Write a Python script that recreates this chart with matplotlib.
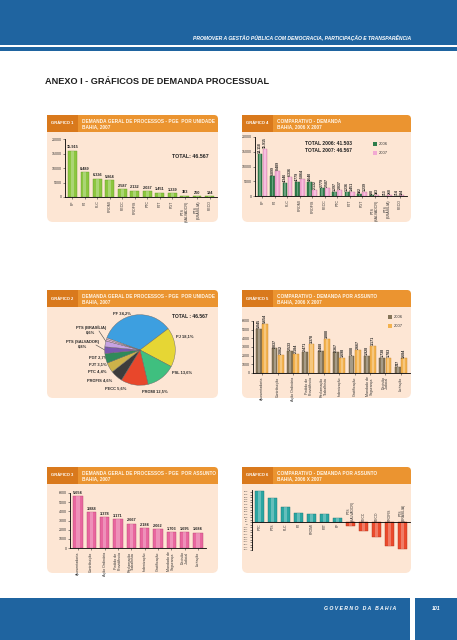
import numpy as np
import matplotlib
matplotlib.use('Agg')
import matplotlib.pyplot as plt
from matplotlib.patches import FancyBboxPatch, Rectangle

plt.rcParams['font.family'] = ['Liberation Sans', 'DejaVu Sans']

# ---- data ----
units = ['PF', 'PJ', 'PLC', 'PROMI', 'PECC', 'PROFIS', 'PTC', 'PJT', 'PGT',
         'PTS\n(SALVADOR)', 'PTS\n(BRASÍLIA)', 'PECO']
units_2007 = [15915, 8489, 6336, 5864, 2587, 2132, 2037, 1451, 1239, 383, 260, 194]

comp_units = ['PF', 'PJ', 'PLC', 'PROMI', 'PROFIS', 'PECC', 'PTC', 'PJT', 'PGT',
              'PTS\n(SALVADOR)', 'PTS\n(BRASÍLIA)', 'PECO']
comp_2006 = [14118, 6899, 4346, 4779, 4640, 2779, 1297, 1236, 582, 198, 113, 114]
comp_2007 = [15915, 8489, 6336, 5864, 2132, 2587, 2037, 1451, 1239, 383, 260, 194]

pie_labels = ['PF 34,2%', 'PJ 18,1%', 'PSL 13,6%', 'PROMI 12,5%', 'PECC 5,6%',
              'PROFIS 4,6%', 'PTC 4,4%', 'PJT 3,1%', 'PGT 2,7%',
              'PTS (SALVADOR)\n0,8%', 'PTS (BRASÍLIA)\n0,6%']
pie_share = [34.2, 18.1, 13.6, 12.5, 5.6, 4.6, 4.4, 3.1, 2.7, 0.8, 0.6]
pie_colors = ['#3d9fe0', '#e6d634', '#3fbf7f', '#e8472b', '#3c3c3c', '#cdb24a',
              '#2f8a5a', '#7a58b0', '#c6a2e2', '#e6b2d6', '#f2cde4']

subjects = ['Aposentadoria', 'Contribuição', 'Ação Ordinária', 'Pedido de\nProvidência',
            'Reclamação\nTrabalhista', 'Indenização', 'Gratificação', 'Mandado de\nSegurança',
            'Decisão\nJudicial', 'Licitação']
subj_2007 = [5654, 3888, 3378, 3171, 2667, 2184, 2062, 1703, 1695, 1684]
subj_comp_2006 = [5045, 2837, 2533, 2471, 2488, 2367, 2008, 1928, 1738, 747]
subj_comp_2007 = [5654, 2062, 2184, 3378, 3888, 1698, 2667, 3171, 1783, 1684]

var_labels = ['PTC', 'PTS', 'PLC', 'PJ', 'PROMI', 'PJT', 'PF',
              'PTS\n(SALVADOR)', 'PECC', 'PECO', 'PROFIS', 'PTS\n(BRASÍLIA)']
var_values = [62, 48, 30, 18, 16, 16, 8, -8, -18, -30, -48, -54]

BLUE = '#1f64a0'
PEACH = '#fde6d4'
ORANGE = '#eb9430'
DORANGE = '#d9791c'

W, H = 457, 640
fig = plt.figure(figsize=(W / 100, H / 100), dpi=100)
bg = fig.add_axes([0, 0, 1, 1])
bg.set_xlim(0, W)
bg.set_ylim(H, 0)
bg.axis('off')


def add_ax(x0, y0, x1, y1):
    ax = fig.add_axes([x0 / W, 1 - y1 / H, (x1 - x0) / W, (y1 - y0) / H])
    ax.set_facecolor('none')
    return ax


def fmt(v):
    return f'{v:,}'.replace(',', '.')


def panel(x0, y0, x1, y1, num, title):
    bg.add_patch(FancyBboxPatch((x0, y0), x1 - x0, y1 - y0,
                                boxstyle='round,pad=0,rounding_size=6', fc=PEACH, ec='none'))
    bg.add_patch(FancyBboxPatch((x0, y0), x1 - x0, 17,
                                boxstyle='round,pad=0,rounding_size=4', fc=ORANGE, ec='none'))
    bg.add_patch(Rectangle((x0, y0 + 9), x1 - x0, 8, fc=ORANGE, ec='none'))
    bg.add_patch(Rectangle((x0, y0), 31, 17, fc=DORANGE, ec='none'))
    bg.text(x0 + 15.5, y0 + 8.5, f'GRÁFICO {num}', color='white', fontsize=3.0,
            fontweight='bold', ha='center', va='center')
    bg.text(x0 + 35, y0 + 8.7, title, color='#fff4e6', fontsize=3.4,
            fontweight='bold', ha='left', va='center', linespacing=1.05)


def style(ax, labelsize=2.6):
    for s in ['top', 'right']:
        ax.spines[s].set_visible(False)
    for s in ['left', 'bottom']:
        ax.spines[s].set_linewidth(0.6)
    ax.tick_params(labelsize=labelsize, length=1.5, width=0.4, pad=1, colors='#333333')


def glossy(ax, x, h, width, color, edge):
    ax.bar(x, h, width, color=color, edgecolor=edge, linewidth=0.3)
    ax.bar(x, h, width * 0.35, color='white', alpha=0.28, linewidth=0)


# ---- page decoration ----
bg.add_patch(Rectangle((0, 0), W, 45, fc=BLUE, ec='none'))
bg.add_patch(Rectangle((0, 47), W, 4, fc=BLUE, ec='none'))
bg.text(411, 38, 'PROMOVER A GESTÃO PÚBLICA COM DEMOCRACIA, PARTICIPAÇÃO E TRANSPARÊNCIA',
        color='white', fontsize=3.6, fontweight='bold', style='italic', ha='right', va='center')
bg.text(45, 82, 'ANEXO I - GRÁFICOS DE DEMANDA PROCESSUAL', color='#1e1e1e', fontsize=6.6,
        fontweight='bold', ha='left', va='center')
bg.add_patch(Rectangle((0, 598), 410, 42, fc=BLUE, ec='none'))
bg.add_patch(Rectangle((415, 598), 42, 42, fc=BLUE, ec='none'))
bg.text(360, 609, 'G O V E R N O   D A   B A H I A', color='white', fontsize=3.7,
        fontweight='bold', style='italic', ha='center', va='center')
bg.text(436, 609, '101', color='white', fontsize=3.8, fontweight='bold', style='italic',
        ha='center', va='center')

# ---- panels ----
panel(47, 115, 218, 222, 1, 'DEMANDA GERAL DE PROCESSOS - PGE  POR UNIDADE\nBAHIA, 2007')
panel(242, 115, 411, 222, 4, 'COMPARATIVO - DEMANDA\nBAHIA, 2006 X 2007')
panel(47, 290, 218, 398, 2, 'DEMANDA GERAL DE PROCESSOS - PGE  POR UNIDADE\nBAHIA, 2007')
panel(242, 290, 411, 398, 5, 'COMPARATIVO - DEMANDA POR ASSUNTO\nBAHIA, 2006 X 2007')
panel(47, 467, 218, 573, 3, 'DEMANDA GERAL DE PROCESSOS - PGE  POR ASSUNTO\nBAHIA, 2007')
panel(242, 467, 411, 573, 6, 'COMPARATIVO - DEMANDA POR ASSUNTO\nBAHIA, 2006 X 2007')

# ---- Gráfico 1 ----
ax1 = add_ax(65, 139, 217, 197)
x = np.arange(len(units))
glossy(ax1, x, units_2007, 0.7, '#8cc63f', '#5f9a2a')
for xi, v in zip(x, units_2007):
    ax1.text(xi, v + 500, fmt(v), ha='center', va='bottom', fontsize=2.8, fontweight='bold',
             color='#222222')
ax1.set_ylim(0, 20000)
ax1.set_xlim(-0.6, 11.6)
ax1.set_yticks(range(0, 20001, 5000))
ax1.set_xticks(x)
ax1.set_xticklabels(units, rotation=90, fontsize=2.5, linespacing=0.9)
style(ax1)
bg.text(190, 156, 'TOTAL: 46.567', fontsize=3.8, fontweight='bold', ha='center', va='center',
        color='#222222')

# ---- Gráfico 4 ----
ax4 = add_ax(255, 137, 407, 196)
x = np.arange(len(comp_units))
glossy(ax4, x - 0.2, comp_2006, 0.38, '#2f7d4b', '#1d5a33')
glossy(ax4, x + 0.2, comp_2007, 0.38, '#f2a9d2', '#c7789f')
for xi, a, b in zip(x, comp_2006, comp_2007):
    ax4.text(xi - 0.2, a + 300, fmt(a), rotation=90, ha='center', va='bottom', fontsize=2.5,
             fontweight='bold', color='#222222')
    ax4.text(xi + 0.2, b + 300, fmt(b), rotation=90, ha='center', va='bottom', fontsize=2.5,
             fontweight='bold', color='#222222')
ax4.set_ylim(0, 20000)
ax4.set_xlim(-0.6, 11.6)
ax4.set_yticks(range(0, 20001, 5000))
ax4.set_xticks(x)
ax4.set_xticklabels(comp_units, rotation=90, fontsize=2.4, linespacing=0.9)
style(ax4)
bg.text(305, 147, 'TOTAL 2006: 41.503\nTOTAL 2007: 46.567', fontsize=3.6, fontweight='bold',
        ha='left', va='center', color='#222222', linespacing=1.3)
bg.add_patch(Rectangle((373, 142), 4, 4, fc='#2f7d4b', ec='none'))
bg.add_patch(Rectangle((373, 151), 4, 4, fc='#f2a9d2', ec='none'))
bg.text(379, 144, '2006', fontsize=3.0, va='center', color='#333333')
bg.text(379, 153, '2007', fontsize=3.0, va='center', color='#333333')

# ---- Gráfico 2 (pie) ----
ax2 = add_ax(104, 314, 176, 386)
ax2.pie(pie_share, colors=pie_colors, startangle=160, counterclock=False,
        wedgeprops=dict(edgecolor='#666666', linewidth=0.3))
ax2.set_xlim(-1.02, 1.02)
ax2.set_ylim(-1.02, 1.02)
ax2.set_aspect('equal')
pie_pos = [(122, 313, 'center'), (176, 336, 'left'), (172, 372, 'left'), (142, 391, 'left'),
           (126, 388, 'right'), (112, 380, 'right'), (107, 371, 'right'), (107, 364, 'right'),
           (107, 357, 'right'), (83, 344, 'center'), (91, 330, 'center')]
for lab, (px, py, ha) in zip(pie_labels, pie_pos):
    bg.text(px, py, lab, fontsize=2.9, fontweight='bold', ha=ha, va='center',
            color='#2a2a2a', linespacing=1.0)
bg.plot([99, 115], [331, 355], color='#444444', lw=0.4)
bg.plot([96, 110], [345, 353], color='#444444', lw=0.4)
bg.text(190, 317, 'TOTAL : 46.567', fontsize=3.6, fontweight='bold', ha='center', va='center',
        color='#222222')

# ---- Gráfico 5 ----
ax5 = add_ax(253, 321, 410, 373)
x = np.arange(len(subjects))
glossy(ax5, x - 0.2, subj_comp_2006, 0.38, '#857559', '#5e523d')
glossy(ax5, x + 0.2, subj_comp_2007, 0.38, '#f3b24e', '#c98a2e')
for xi, a, b in zip(x, subj_comp_2006, subj_comp_2007):
    ax5.text(xi - 0.2, a + 100, fmt(a), rotation=90, ha='center', va='bottom', fontsize=2.6,
             fontweight='bold', color='#222222')
    ax5.text(xi + 0.2, b + 100, fmt(b), rotation=90, ha='center', va='bottom', fontsize=2.6,
             fontweight='bold', color='#222222')
ax5.set_ylim(0, 6000)
ax5.set_xlim(-0.6, 9.6)
ax5.set_yticks(range(0, 6001, 1000))
ax5.set_xticks(x)
ax5.set_xticklabels(subjects, rotation=90, fontsize=2.3, linespacing=0.9)
style(ax5)
bg.add_patch(Rectangle((388, 315), 4, 4, fc='#857559', ec='none'))
bg.add_patch(Rectangle((388, 324), 4, 4, fc='#f3b24e', ec='none'))
bg.text(394, 317, '2006', fontsize=3.0, va='center', color='#333333')
bg.text(394, 326, '2007', fontsize=3.0, va='center', color='#333333')

# ---- Gráfico 3 ----
ax3 = add_ax(70, 493, 206, 548)
x = np.arange(len(subjects))
glossy(ax3, x, subj_2007, 0.72, '#e8679f', '#b9446f')
for xi, v in zip(x, subj_2007):
    ax3.text(xi, v + 120, fmt(v), ha='center', va='bottom', fontsize=2.8, fontweight='bold',
             color='#222222')
ax3.set_ylim(0, 6000)
ax3.set_xlim(-0.6, 9.6)
ax3.set_yticks(range(0, 6001, 1000))
ax3.set_xticks(x)
ax3.set_xticklabels(subjects, rotation=90, fontsize=2.3, linespacing=0.9)
style(ax3)

# ---- Gráfico 6 ----
ax6 = add_ax(252, 490, 410, 550)
x = np.arange(len(var_values))
pos = [v for v in var_values if v >= 0]
neg = [v for v in var_values if v < 0]
glossy(ax6, x[:len(pos)], pos, 0.72, '#2ba6a2', '#1b7573')
glossy(ax6, x[len(pos):], neg, 0.72, '#ea4a2c', '#b3301b')
for xi, v, lab in zip(x, var_values, var_labels):
    if v >= 0:
        ax6.text(xi, -2, lab, rotation=90, ha='center', va='top', fontsize=2.4,
                 color='#333333', linespacing=0.9)
    else:
        ax6.text(xi, 2, lab, rotation=90, ha='center', va='bottom', fontsize=2.4,
                 color='#333333', linespacing=0.9)
ax6.set_ylim(-56, 64)
ax6.set_xlim(-0.6, 11.6)
ax6.set_yticks(range(-55, 65, 5))
ax6.set_yticklabels([f'{t}%' for t in range(-55, 65, 5)], fontsize=1.6)
ax6.set_xticks([])
style(ax6, labelsize=1.6)
ax6.spines['bottom'].set_position(('data', 0))

fig.savefig('out.png', dpi=100)
